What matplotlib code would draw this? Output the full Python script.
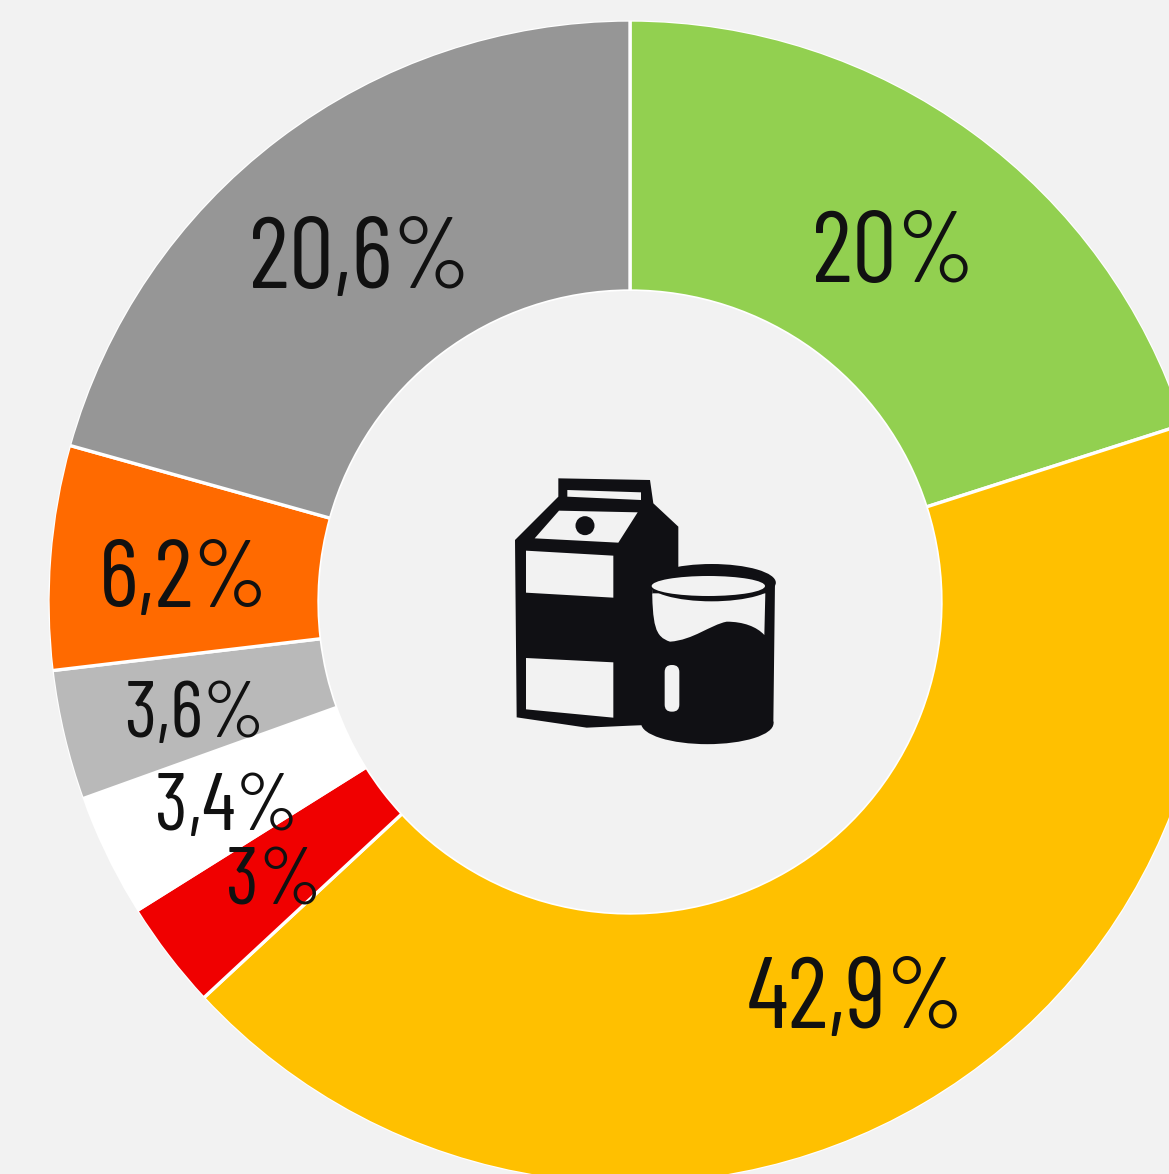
import matplotlib
matplotlib.use("Agg")
import matplotlib.pyplot as plt
from matplotlib.patches import Polygon, Ellipse, Circle, FancyBboxPatch, Wedge, PathPatch
from matplotlib.path import Path

values = [20, 42.9, 3, 3.4, 3.6, 6.2, 20.6]
labels = ["20%", "42,9%", "3%", "3,4%", "3,6%", "6,2%", "20,6%"]
colors = ["#92D050", "#FFC000", "#F00000", "#FFFFFF", "#B9B9B9", "#FF6A00", "#969696"]

W, H = 1169, 1174
BG = "#F2F2F2"
INK = "#101014"

fig = plt.figure(figsize=(W/100, H/100), dpi=100, facecolor=BG)
ax = fig.add_axes([0, 0, 1, 1])

# centre 630,602 in picture pixels (y down)
R = 582
CX, CY = 630, H-602
ax.pie(values, colors=colors, center=(CX, CY), radius=R, startangle=90, counterclock=False,
       wedgeprops=dict(width=R-311, edgecolor="white", linewidth=2.4), frame=True)
ax.set_xlim(0, W)
ax.set_ylim(0, H)
ax.set_aspect("equal")
ax.axis("off")
# separators only: hide the white edge on the inner and outer arcs
ax.add_patch(Circle((CX, CY), 311, fc=BG, ec="none", zorder=3))
ax.add_patch(Wedge((CX, CY), R+6, 0, 360, width=6.5, fc=BG, ec="none", zorder=3))

label_pos = [(893, 256), (856, 1002), (274, 884), (227, 810), (194, 717), (184, 582), (360, 262)]
label_size = [72, 72, 58, 58, 57, 69, 72]
for s, (x, y), fs in zip(labels, label_pos, label_size):
    ax.text(x, H-y, s, ha="center", va="center", fontsize=fs, color="#111111",
            family=["Barlow Condensed", "Liberation Sans Narrow", "DejaVu Sans"], zorder=5)


# icon, coordinates taken from a 3x crop starting at 490,460
def pt(x, y):
    return (490 + x/3, H - (460 + y/3))


def poly(points, color, z):
    ax.add_patch(Polygon([pt(*p) for p in points], closed=True, fc=color, ec="none", zorder=z))


def ell(x, y, w, h, color, z):
    ax.add_patch(Ellipse(pt(x, y), w/3, h/3, fc=color, ec="none", zorder=z))


poly([(205, 55), (480, 60), (490, 130), (565, 200), (565, 330), (600, 790), (420, 797), (290, 803),
      (80, 772), (75, 240), (205, 110)], INK, 6)
poly([(232, 90), (453, 97), (453, 120), (232, 110)], BG, 7)
poly([(207, 152), (443, 157), (385, 248), (134, 235)], BG, 7)
ax.add_patch(Circle(pt(285, 197), 9.5, fc=INK, ec="none", zorder=8))
poly([(108, 272), (370, 287), (370, 413), (108, 398)], BG, 7)
poly([(108, 594), (370, 607), (370, 773), (108, 748)], BG, 7)

poly([(475, 365), (855, 365), (850, 790), (455, 790)], INK, 8)
ell(652, 790, 397, 125, INK, 8)
gap = [(486, 400), (826, 400), (823, 525), (800, 500), (760, 485), (710, 485), (660, 495), (610, 540), (540, 545),
       (495, 530), (487, 500), (486, 400)]
gap_codes = [Path.MOVETO, Path.LINETO, Path.LINETO, Path.CURVE4, Path.CURVE4, Path.CURVE4, Path.CURVE4, Path.CURVE4,
             Path.CURVE4, Path.CURVE4, Path.CURVE4, Path.CLOSEPOLY]
ax.add_patch(PathPatch(Path([pt(*p) for p in gap], gap_codes), fc=BG, ec="none", zorder=9))
ell(665, 368, 385, 112, INK, 10)
ell(655, 378, 340, 60, BG, 11)
ax.add_patch(FancyBboxPatch((490 + 524/3, H - (460 + 755/3)), 44/3, 140/3, boxstyle="round,pad=0,rounding_size=7",
                            fc=BG, ec="none", zorder=11))

fig.savefig("out.png", dpi=100, facecolor=BG)
